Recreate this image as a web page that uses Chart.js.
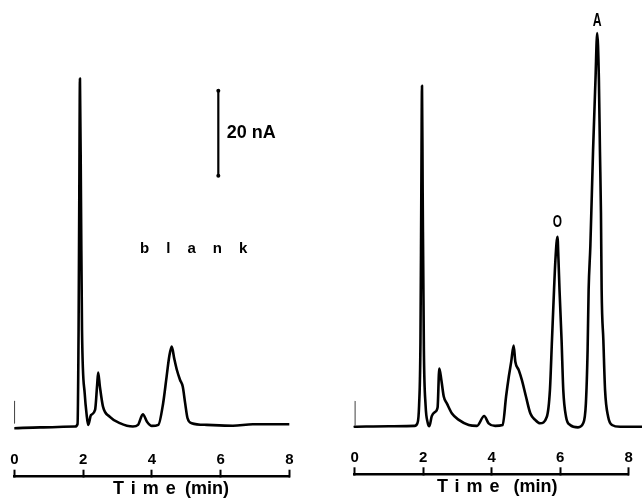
<!DOCTYPE html>
<html>
<head>
<meta charset="utf-8">
<script src="https://cdn.jsdelivr.net/npm/chart.js@4.4.0/dist/chart.umd.min.js"></script>
<style>
html,body{margin:0;padding:0;background:#fff;}
#wrap{position:relative;width:642px;height:500px;overflow:hidden;}
canvas{position:absolute;top:0;}
#cL{left:0;}
#cR{left:321px;}
</style>
</head>
<body>
<div id="wrap">
  <canvas id="cL" width="321" height="500"></canvas>
  <canvas id="cR" width="321" height="500"></canvas>
</div>
<script>
// time axis (min)
const timeTicks = [0, 2, 4, 6, 8];

// blank run: time (min) / current above baseline (nA)
const blankTime   = [0, 0.75, 1.77, 1.84, 1.87, 1.89, 1.91, 1.94, 1.97, 2.05, 2.10, 2.15, 2.23, 2.35, 2.41, 2.44, 2.49, 2.58, 2.78, 3.07, 3.45, 3.60, 3.74, 3.86, 4.00, 4.19, 4.33, 4.43, 4.51, 4.58, 4.65, 4.73, 4.82, 4.90, 4.97, 5.04, 5.16, 5.60, 6.36, 6.94, 8.00];
const blankSignal = [0, 0.2, 0.4, 1.0, 23, 53.7, 82.3, 53.7, 23, 8, 3.5, 0.8, 3.1, 4.3, 10.2, 13.1, 9.8, 5.1, 2.7, 1.2, 0.4, 0.8, 3.3, 1.55, 0.55, 0.8, 5.9, 12.1, 17.0, 19.2, 16.5, 13.7, 11.4, 9.8, 5.9, 2.35, 1.2, 0.8, 0.6, 0.95, 0.95];

// sample run (peaks O and A)
const sampleTime   = [0, 1.0, 1.75, 1.83, 1.88, 1.92, 1.945, 1.965, 1.985, 2.02, 2.07, 2.13, 2.18, 2.25, 2.35, 2.42, 2.47, 2.53, 2.60, 2.69, 2.84, 3.04, 3.33, 3.57, 3.78, 3.91, 4.10, 4.32, 4.42, 4.50, 4.57, 4.64, 4.69, 4.79, 4.88, 5.00, 5.13, 5.27, 5.41, 5.61, 5.70, 5.76, 5.82, 5.86, 5.92, 5.95, 5.98, 6.04, 6.09, 6.17, 6.29, 6.52, 6.67, 6.75, 6.80, 6.83, 6.88, 6.96, 7.03, 7.08, 7.13, 7.16, 7.19, 7.21, 7.26, 7.31, 7.40, 7.51, 7.75, 8.39];
const sampleSignal = [0, 0.1, 0.2, 0.8, 5, 20, 55, 80.2, 55, 18, 5, 1, 0.1, 2.5, 3.5, 4.5, 13.7, 11, 7.1, 5.5, 3.1, 1.6, 0.4, 0.2, 2.5, 0.8, 0.2, 0.4, 7.1, 11.8, 15.3, 19.1, 15.3, 13.3, 11, 7.1, 3.1, 1.6, 0.8, 2.35, 8.6, 20.4, 32.2, 39.2, 44.7, 39.2, 32.2, 20.4, 8.6, 2.35, 0.4, -0.15, 0.8, 5.5, 18, 32.2, 42.4, 65.1, 81.6, 92.6, 81.6, 65.1, 50.3, 32.2, 20.4, 8.6, 2.35, 0.4, 0, 0];

// 20 nA scale bar
const barTime   = [5.935, 5.935];
const barSignal = [59.4, 79.4];

// injection marks
const injTime         = [0, 0];
const injSignalBlank  = [1.25, 6.3];
const injSignalSample = [0.4, 5.9];

const FONT = '"Liberation Sans", Arial, sans-serif';
const pts = (xs, ys) => xs.map((x, i) => ({x: x, y: ys[i]}));

// text placed at data coordinates (or below the axis)
const notes = {
  id: 'notes',
  afterDraw(chart, args, opts) {
    const {ctx, scales: {x, y}} = chart;
    (opts.items || []).forEach(it => {
      ctx.save();
      ctx.fillStyle = '#000';
      ctx.font = it.font;
      ctx.textBaseline = 'middle';
      ctx.textAlign = it.align || 'left';
      if ('letterSpacing' in ctx) ctx.letterSpacing = (it.ls || 0) + 'px';
      const px = x.getPixelForValue(it.t);
      const py = it.dy != null ? chart.chartArea.bottom + it.dy : y.getPixelForValue(it.v);
      ctx.translate(px, py);
      if (it.sx) ctx.scale(it.sx, 1);
      ctx.fillText(it.text, 0, 0);
      ctx.restore();
    });
  }
};

function trace(data, extra) {
  return Object.assign({
    data: data, borderColor: '#000', borderWidth: 2.6, pointRadius: 0,
    cubicInterpolationMode: 'monotone', borderJoinStyle: 'round', borderCapStyle: 'round'
  }, extra || {});
}

function makeChart(id, o) {
  return new Chart(document.getElementById(id), {
    type: 'line',
    data: {datasets: o.datasets},
    options: {
      responsive: false, animation: false, events: [],
      layout: {padding: o.pad},
      plugins: {legend: {display: false}, tooltip: {enabled: false}, notes: {items: o.notes}},
      scales: {
        x: {
          type: 'linear', position: 'bottom', min: 0, max: 8,
          afterBuildTicks: s => { s.ticks = timeTicks.map(v => ({value: v})); },
          afterFit: s => { s.height = o.axisH; },
          border: {display: true, color: '#000', width: 2.5},
          grid: {display: true, drawOnChartArea: false, drawTicks: true, tickLength: -7, tickWidth: 2, tickColor: '#000'},
          // labels sit above the axis line, as in the original figure
          ticks: {color: '#000', font: {family: FONT, size: 15, weight: 'bold'}, mirror: true, padding: 7.5, maxRotation: 0}
        },
        y: {type: 'linear', display: false, min: o.ymin, max: o.ymax}
      }
    },
    plugins: [notes]
  });
}

makeChart('cL', {
  pad: {left: 14.3, right: 31.7, top: 20, bottom: 0},
  axisH: 23.3, ymin: -11.4, ymax: 96.06,
  datasets: [
    trace(pts(blankTime, blankSignal)),
    trace(pts(injTime, injSignalBlank), {borderWidth: 1.5, cubicInterpolationMode: 'default'}),
    trace(pts(barTime, barSignal), {borderWidth: 2.2, cubicInterpolationMode: 'default', pointRadius: 2, pointBackgroundColor: '#000', pointBorderWidth: 0})
  ],
  notes: [
    {text: '20 nA', t: 6.18, v: 69.4, font: 'bold 18px ' + FONT},
    {text: 'blank', t: 3.66, v: 42.2, font: 'bold 15px ' + FONT, ls: 17},
    {text: 'Time', t: 2.87, dy: 12.5, font: 'bold 18px ' + FONT, ls: 7},
    {text: '(min)', t: 4.966, dy: 12.5, font: 'bold 18px ' + FONT}
  ]
});

makeChart('cR', {
  pad: {left: 33.7, right: 13.3, top: 20, bottom: 0},
  axisH: 25.7, ymin: -11.2, ymax: 95.69,
  datasets: [
    trace(pts(sampleTime, sampleSignal), {clip: false}),
    trace(pts(injTime, injSignalSample), {borderWidth: 1.5, cubicInterpolationMode: 'default'})
  ],
  notes: [
    {text: 'O', t: 5.92, v: 48.0, font: 'bold 17px ' + FONT, align: 'center', sx: 0.7},
    {text: 'A', t: 7.08, v: 95.5, font: 'bold 18px ' + FONT, align: 'center', sx: 0.68},
    {text: 'Time', t: 2.40, dy: 12.8, font: 'bold 18px ' + FONT, ls: 7},
    {text: '(min)', t: 4.64, dy: 12.8, font: 'bold 18px ' + FONT}
  ]
});
</script>
</body>
</html>
